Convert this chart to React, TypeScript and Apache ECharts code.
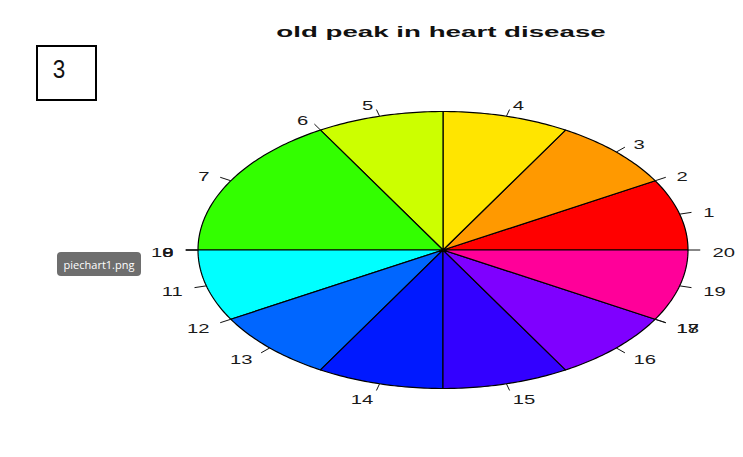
import React, { useEffect, useRef } from "react";
import * as echarts from "echarts";

// ---- data ----
const sliceLabels = ["1", "2", "3", "4", "5", "6", "7", "8", "9", "10", "11", "12", "13", "14", "15", "16", "17", "18", "19", "20"];
const sliceValues = [1, 0, 1, 1, 1, 0, 2, 0, 0, 0, 1, 0, 1, 1, 1, 1, 0, 0, 1, 0];
const sliceColors = [
  "#FF0000", "#FF4D00", "#FF9900", "#FFE500", "#CCFF00",
  "#80FF00", "#33FF00", "#00FF19", "#00FF66", "#00FFB2",
  "#00FFFF", "#00B3FF", "#0066FF", "#0019FF", "#3300FF",
  "#7F00FF", "#CC00FF", "#FF00E6", "#FF0099", "#FF004D",
];
const chartTitle = "old peak in heart disease";
const boxText = "3";
const tagText = "piechart1.png";

// cumulative starts derived from the values
const total = sliceValues.reduce((a, b) => a + b, 0);
const starts: number[] = [];
sliceValues.reduce((acc, v, i) => {
  starts[i] = acc;
  return acc + v;
}, 0);

// layout
const CX = 443;
const CY = 250;
const RX = 245;
const RY = 138.5;
const LABEL_SCALE_X = 1.5;
const LABEL_DY = 2;
const FONT = "'Liberation Sans', Arial, sans-serif";

export default function App() {
  const ref = useRef<HTMLDivElement>(null);

  useEffect(() => {
    if (!ref.current) return;
    const chart = echarts.init(ref.current, null, { renderer: "svg" });

    const renderItem = (params: any, api: any) => {
      const i = api.value(0) as number;
      const v = api.value(1) as number;
      const a0 = (starts[i] / total) * Math.PI * 2;
      const a1 = ((starts[i] + v) / total) * Math.PI * 2;
      const mid = (a0 + a1) / 2;
      const children: any[] = [];
      if (v > 0) {
        const pts: number[][] = [[CX, CY]];
        const n = Math.max(2, Math.ceil(((a1 - a0) / (Math.PI * 2)) * 400));
        for (let k = 0; k <= n; k++) {
          const a = a0 + ((a1 - a0) * k) / n;
          pts.push([CX + RX * Math.cos(a), CY - RY * Math.sin(a)]);
        }
        children.push({
          type: "polygon",
          shape: { points: pts },
          style: { fill: sliceColors[i], stroke: "#000", lineWidth: 1.2, lineJoin: "round" },
        });
      }
      const c = Math.cos(mid);
      const s = Math.sin(mid);
      children.push({
        type: "line",
        shape: { x1: CX + RX * c, y1: CY - RY * s, x2: CX + 1.05 * RX * c, y2: CY - 1.05 * RY * s },
        style: { stroke: "#111", lineWidth: 1 },
        z2: 5,
      });
      children.push({
        type: "text",
        x: CX + 1.1 * RX * c,
        y: CY - 1.1 * RY * s + LABEL_DY,
        scaleX: LABEL_SCALE_X,
        style: {
          text: sliceLabels[i],
          fontSize: 13.5,
          fontFamily: FONT,
          fill: "#1a1a1a",
          align: c < 0 ? "right" : "left",
          verticalAlign: "middle",
        },
        z2: 6,
      });
      return { type: "group", children };
    };

    chart.setOption({
      animation: false,
      backgroundColor: "#ffffff",
      series: [
        {
          type: "custom",
          coordinateSystem: "none",
          renderItem,
          data: sliceValues.map((v, i) => [i, v]),
          silent: true,
        },
      ],
      graphic: [
        {
          type: "text",
          x: 441,
          y: 32,
          scaleX: 1.98,
          style: {
            text: chartTitle,
            fontSize: 14,
            fontWeight: "bold",
            fontFamily: FONT,
            fill: "#111",
            align: "center",
            verticalAlign: "middle",
          },
        },
        {
          type: "rect",
          shape: { x: 37, y: 46, width: 59, height: 54 },
          style: { fill: "#fff", stroke: "#000", lineWidth: 2 },
        },
        {
          type: "text",
          x: 59,
          y: 69,
          scaleX: 0.9,
          style: {
            text: boxText,
            fontSize: 25,
            fontFamily: FONT,
            fill: "#111",
            align: "center",
            verticalAlign: "middle",
          },
        },
        {
          type: "rect",
          shape: { x: 57, y: 252, width: 84, height: 24, r: 4 },
          style: { fill: "#6e6e6e" },
          z: 10,
        },
        {
          type: "text",
          x: 99,
          y: 264,
          style: {
            text: tagText,
            fontSize: 11,
            fontFamily: "'Open Sans', 'Noto Sans', sans-serif",
            fill: "#ffffff",
            align: "center",
            verticalAlign: "middle",
          },
          z: 11,
        },
      ],
    });

    return () => chart.dispose();
  }, []);

  return (
    <div
      ref={ref}
      style={{ position: "fixed", left: 0, top: 0, width: 743, height: 457, background: "#fff" }}
    />
  );
}
